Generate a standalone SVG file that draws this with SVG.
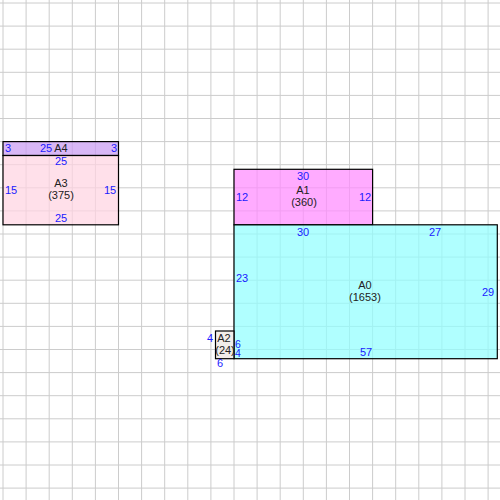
<svg xmlns="http://www.w3.org/2000/svg" width="500" height="500" viewBox="0 0 500 500">
<style>
.grid line{stroke:#cccccc;stroke-width:1}
.box{stroke:#000;stroke-width:1.2}
text{font-family:"Liberation Sans",Arial,sans-serif;font-size:11px;text-anchor:middle}
.dim{fill:#1a1aff}
.name{fill:#222}
.sm{font-size:10.5px}
</style>
<rect x="0" y="0" width="500" height="500" fill="#fff"/>
<g class="grid" id="grid">
<line x1="3" y1="0" x2="3" y2="500"/><line x1="26.1" y1="0" x2="26.1" y2="500"/><line x1="49.2" y1="0" x2="49.2" y2="500"/><line x1="72.3" y1="0" x2="72.3" y2="500"/><line x1="95.4" y1="0" x2="95.4" y2="500"/><line x1="118.5" y1="0" x2="118.5" y2="500"/><line x1="141.6" y1="0" x2="141.6" y2="500"/><line x1="164.7" y1="0" x2="164.7" y2="500"/><line x1="187.8" y1="0" x2="187.8" y2="500"/><line x1="210.9" y1="0" x2="210.9" y2="500"/><line x1="234" y1="0" x2="234" y2="500"/><line x1="257.1" y1="0" x2="257.1" y2="500"/><line x1="280.2" y1="0" x2="280.2" y2="500"/><line x1="303.3" y1="0" x2="303.3" y2="500"/><line x1="326.4" y1="0" x2="326.4" y2="500"/><line x1="349.5" y1="0" x2="349.5" y2="500"/><line x1="372.6" y1="0" x2="372.6" y2="500"/><line x1="395.7" y1="0" x2="395.7" y2="500"/><line x1="418.8" y1="0" x2="418.8" y2="500"/><line x1="441.9" y1="0" x2="441.9" y2="500"/><line x1="465" y1="0" x2="465" y2="500"/><line x1="488.1" y1="0" x2="488.1" y2="500"/>
<line y1="3" x1="0" y2="3" x2="500"/><line y1="26.1" x1="0" y2="26.1" x2="500"/><line y1="49.2" x1="0" y2="49.2" x2="500"/><line y1="72.3" x1="0" y2="72.3" x2="500"/><line y1="95.4" x1="0" y2="95.4" x2="500"/><line y1="118.5" x1="0" y2="118.5" x2="500"/><line y1="141.6" x1="0" y2="141.6" x2="500"/><line y1="164.7" x1="0" y2="164.7" x2="500"/><line y1="187.8" x1="0" y2="187.8" x2="500"/><line y1="210.9" x1="0" y2="210.9" x2="500"/><line y1="234" x1="0" y2="234" x2="500"/><line y1="257.1" x1="0" y2="257.1" x2="500"/><line y1="280.2" x1="0" y2="280.2" x2="500"/><line y1="303.3" x1="0" y2="303.3" x2="500"/><line y1="326.4" x1="0" y2="326.4" x2="500"/><line y1="349.5" x1="0" y2="349.5" x2="500"/><line y1="372.6" x1="0" y2="372.6" x2="500"/><line y1="395.7" x1="0" y2="395.7" x2="500"/><line y1="418.8" x1="0" y2="418.8" x2="500"/><line y1="441.9" x1="0" y2="441.9" x2="500"/><line y1="465" x1="0" y2="465" x2="500"/><line y1="488.1" x1="0" y2="488.1" x2="500"/>
</g>
<g id="connectors"></g>
<g id="A4">
<rect class="box" x="3" y="141.6" width="115.5" height="13.9" fill="#c99bf2" fill-opacity="0.72"/>
<text class="dim" x="8" y="152">3</text>
<text class="dim" x="46" y="152">25</text>
<text class="name" x="61" y="152">A4</text>
<text class="dim" x="114" y="152">3</text>
</g>
<g id="A3">
<rect class="box" x="3" y="155.5" width="115.5" height="69.3" fill="#ffd4e2" fill-opacity="0.72"/>
<text class="dim" x="61" y="165">25</text>
<text class="name" x="61" y="187">A3</text>
<text class="name" x="61" y="199">(375)</text>
<text class="dim" x="11" y="194">15</text>
<text class="dim" x="110" y="194">15</text>
<text class="dim" x="61" y="222">25</text>
</g>
<g id="A1">
<rect class="box" x="234" y="169.3" width="138.6" height="55.5" fill="#ff8bff" fill-opacity="0.72"/>
<text class="dim" x="303" y="180">30</text>
<text class="name" x="303" y="194">A1</text>
<text class="name" x="304" y="206">(360)</text>
<text class="dim" x="242" y="201">12</text>
<text class="dim" x="365" y="201">12</text>
</g>
<g id="A0">
<rect class="box" x="234" y="224.8" width="263.3" height="133.9" fill="#92ffff" fill-opacity="0.72"/>
<text class="dim" x="303" y="236">30</text>
<text class="dim" x="435" y="236">27</text>
<text class="dim" x="242" y="282">23</text>
<text class="name" x="365" y="289">A0</text>
<text class="name" x="365" y="301">(1653)</text>
<text class="dim" x="488" y="296">29</text>
<text class="dim" x="366" y="356">57</text>
<text class="dim sm" x="238" y="348">6</text>
<text class="dim sm" x="238" y="356.5">4</text>
</g>
<g id="A2">
<rect class="box" x="215.5" y="331" width="18.5" height="27.7" fill="#ece6e0" fill-opacity="0.72"/>
<text class="dim" x="210" y="342">4</text>
<text class="name" x="224" y="342">A2</text>
<text class="name" x="225" y="354">(24)</text>
<text class="dim" x="220" y="367">6</text>
</g>
</svg>
